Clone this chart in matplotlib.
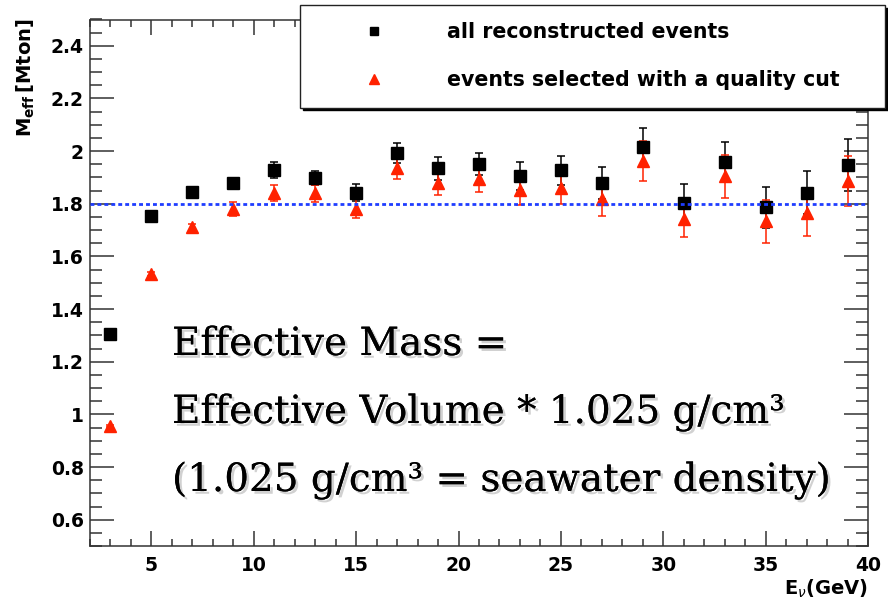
import matplotlib
matplotlib.use("Agg")
import matplotlib.pyplot as plt
import matplotlib.patheffects as pe
from matplotlib.ticker import MultipleLocator, FormatStrFormatter
from matplotlib.lines import Line2D

# ---- data ----
energy = [3, 5, 7, 9, 11, 13, 15, 17, 19, 21, 23, 25, 27, 29, 31, 33, 35, 37, 39]
all_events = [1.305, 1.753, 1.843, 1.879, 1.928, 1.898, 1.842, 1.993, 1.935, 1.951,
              1.905, 1.927, 1.879, 2.017, 1.804, 1.959, 1.787, 1.842, 1.948]
all_err = [0.004, 0.006, 0.012, 0.02, 0.03, 0.028, 0.033, 0.038, 0.043, 0.043,
           0.054, 0.056, 0.061, 0.072, 0.072, 0.077, 0.078, 0.082, 0.098]
sel_events = [0.957, 1.532, 1.711, 1.78, 1.842, 1.84, 1.782, 1.937, 1.88, 1.893,
              1.851, 1.861, 1.817, 1.962, 1.744, 1.904, 1.734, 1.766, 1.886]
sel_err = [0.004, 0.008, 0.014, 0.025, 0.03, 0.033, 0.035, 0.042, 0.046, 0.05,
           0.056, 0.061, 0.065, 0.075, 0.072, 0.083, 0.082, 0.087, 0.095]
ref_level = 1.8
legend_labels = ["all reconstructed events", "events selected with a quality cut"]
note_lines = ["Effective Mass =",
              "Effective Volume * 1.025 g/cm\u00b3",
              "(1.025 g/cm\u00b3 = seawater density)"]

W, H = 888, 602
plt.rcParams["mathtext.fontset"] = "dejavusans"
fig = plt.figure(figsize=(W / 100, H / 100), dpi=100)
ax = fig.add_axes([90 / W, 1 - 546 / H, 778 / W, 526.5 / H])

red = "#ff2200"
ax.errorbar(energy, all_events, yerr=all_err, fmt="s", color="black", ms=8,
            elinewidth=1.1, capsize=3, capthick=1.1, zorder=3)
ax.errorbar(energy, sel_events, yerr=sel_err, fmt="^", color=red, ms=8.5,
            elinewidth=1.1, capsize=3, capthick=1.1, zorder=3)
ax.axhline(ref_level, color="#1f3dff", lw=2.0, linestyle=(0, (1.4, 1.1)), zorder=4)

ax.set_xlim(2, 40)
ax.set_ylim(0.5, 2.5)
ax.xaxis.set_major_locator(MultipleLocator(5))
ax.xaxis.set_minor_locator(MultipleLocator(1))
ax.yaxis.set_major_locator(MultipleLocator(0.2))
ax.yaxis.set_minor_locator(MultipleLocator(0.05))
ax.yaxis.set_major_formatter(FormatStrFormatter("%g"))
ax.tick_params(axis="both", which="both", direction="in", top=True, right=True,
               color="#333333", width=1.1)
ax.tick_params(axis="y", which="major", length=17, pad=4.5)
ax.tick_params(axis="y", which="minor", length=8.5)
ax.tick_params(axis="x", which="major", length=11, pad=7)
ax.tick_params(axis="x", which="minor", length=5)
for lab in ax.get_xticklabels() + ax.get_yticklabels():
    lab.set_fontfamily("DejaVu Sans")
    lab.set_fontweight("bold")
    lab.set_fontsize(13.5)
for s in ax.spines.values():
    s.set_linewidth(1.1)
    s.set_color("#333333")

# axis titles
fig.text(15 / W, 1 - 18 / H, r"$\mathbf{M}_{\mathbf{eff}}\,\mathbf{[Mton]}$", fontsize=14,
         rotation=90, ha="left", va="top")
ax.set_xlabel(r"$\mathbf{E}_{\nu}\mathbf{(GeV)}$", fontsize=14, loc="right")
ax.xaxis.set_label_coords(1.0, -32 / 526.5)

# legend
handles = [Line2D([], [], marker="s", color="black", ls="none", ms=6),
           Line2D([], [], marker="^", color=red, ls="none", ms=7)]
leg = fig.legend(handles, legend_labels, loc="upper left",
                 bbox_to_anchor=(300 / W, 1 - 5 / H, 585 / W, 0.0), mode="expand",
                 prop={"family": "DejaVu Sans", "weight": "bold", "size": 14.8},
                 frameon=True, fancybox=False, shadow={"color": "black", "alpha": 1},
                 borderpad=0.85, labelspacing=1.35, handlelength=5.5, handletextpad=0.8,
                 borderaxespad=0)
leg.get_frame().set_edgecolor("#222222")
leg.get_frame().set_linewidth(1.0)

# annotation text
shadow = [pe.withSimplePatchShadow(offset=(2, -2), shadow_rgbFace="0.6", alpha=0.45), pe.Normal()]
baselines = [355, 423, 491]
for txt, yb in zip(note_lines, baselines):
    fig.text(172 / W, 1 - yb / H, txt, fontfamily="DejaVu Serif", fontsize=28,
             va="baseline", ha="left", color="black", path_effects=shadow)

fig.savefig("out.png", dpi=100)
